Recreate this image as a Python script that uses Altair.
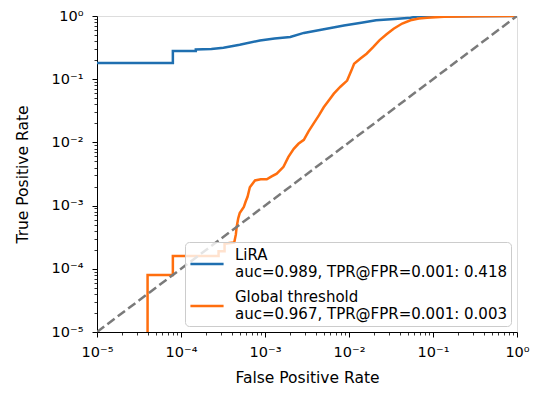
import json
import math
import altair as alt
import pandas as pd

# ---- data (log-log ROC curves) ----
lira_fpr = [1e-6, 8.0e-5, 8.0e-5, 1.5e-4, 1.5e-4, 2.3e-4, 3.2e-4, 5.0e-4, 8.7e-4, 1.3e-3,
            2.0e-3, 2.9e-3, 4.5e-3, 8.7e-3, 1.4e-2, 2.1e-2, 3.5e-2, 5.4e-2, 6.5e-2, 1.0]
lira_tpr = [0.18, 0.18, 0.28, 0.28, 0.295, 0.30, 0.315, 0.35, 0.41, 0.44,
            0.465, 0.54, 0.60, 0.71, 0.78, 0.855, 0.90, 0.94, 0.98, 1.0]

gt_fpr = [4.0e-5, 4.0e-5, 8.0e-5, 8.0e-5, 2.8e-4, 2.8e-4, 3.3e-4, 3.3e-4, 4.3e-4, 4.5e-4,
          4.6e-4, 4.8e-4, 5.0e-4, 5.6e-4, 5.9e-4, 6.2e-4, 6.6e-4, 7.6e-4, 8.9e-4, 1.05e-3,
          1.2e-3, 1.38e-3, 1.66e-3, 1.9e-3, 2.2e-3, 2.5e-3, 2.9e-3, 3.3e-3, 3.8e-3, 4.4e-3,
          5.0e-3, 5.8e-3, 6.6e-3, 7.9e-3, 9.5e-3, 1.07e-2, 1.15e-2, 1.38e-2, 1.62e-2, 1.95e-2,
          2.3e-2, 2.8e-2, 3.4e-2, 4.3e-2, 5.4e-2, 6.8e-2, 8.5e-2, 0.135, 0.316, 1.0]
gt_tpr = [1e-6, 8.0e-5, 8.0e-5, 1.6e-4, 1.6e-4, 1.9e-4, 1.9e-4, 2.5e-4, 2.6e-4, 3.5e-4,
          4.6e-4, 6.3e-4, 7.6e-4, 9.5e-4, 1.17e-3, 1.38e-3, 1.95e-3, 2.5e-3, 2.6e-3, 2.6e-3,
          2.9e-3, 3.2e-3, 4.1e-3, 5.9e-3, 7.9e-3, 9.5e-3, 1.1e-2, 1.5e-2, 2.0e-2, 2.7e-2,
          3.6e-2, 4.7e-2, 5.9e-2, 7.6e-2, 9.5e-2, 0.138, 0.176, 0.214, 0.253, 0.324,
          0.412, 0.513, 0.63, 0.76, 0.855, 0.91, 0.94, 0.973, 0.993, 1.0]

diag_vals = [1e-5, 1.0]

series_names = ["LiRA", "Global threshold"]
series_stats = ["auc=0.989, TPR@FPR=0.001: 0.418", "auc=0.967, TPR@FPR=0.001: 0.003"]
series_colors = ["#1f6fb0", "#ff6e0e"]

major_ticks = [1e-5, 1e-4, 1e-3, 1e-2, 1e-1, 1.0]
major_labels = ["10⁻⁵", "10⁻⁴", "10⁻³", "10⁻²", "10⁻¹", "10⁰"]
minor_ticks = [k * m for m in [1e-5, 1e-4, 1e-3, 1e-2, 1e-1] for k in range(2, 10)]
all_ticks = sorted(major_ticks + minor_ticks)

FONT = "DejaVu Sans"

# ---- tables ----
lira_df = pd.DataFrame({"fpr": lira_fpr, "tpr": lira_tpr, "series": series_names[0],
                        "ord": range(len(lira_fpr))})
gt_df = pd.DataFrame({"fpr": gt_fpr, "tpr": gt_tpr, "series": series_names[1],
                      "ord": range(len(gt_fpr))})
diag_df = pd.DataFrame({"fpr": diag_vals, "tpr": diag_vals})

IS_MAJOR = "abs(log(datum.value)/LN10 - round(log(datum.value)/LN10)) < 0.001"

def tick_expr():
    expr = "''"
    for v, lab in zip(major_ticks, major_labels):
        e = round(math.log10(v))
        expr = (f"abs(log(datum.value)/LN10 - ({e})) < 0.001 ? "
                f"{json.dumps(lab)} : ({expr})")
    return expr

label_expr = tick_expr()

legend_expr = (f"datum.label == {json.dumps(series_names[0])} ? "
               f"{json.dumps([series_names[0], series_stats[0]])} : "
               f"{json.dumps([series_names[1], series_stats[1]])}")

xscale = alt.Scale(type="log", domain=[1e-5, 1.0])
yscale = alt.Scale(type="log", domain=[1e-5, 1.0])
cscale = alt.Scale(domain=series_names, range=series_colors)

tick_size = {"condition": {"test": IS_MAJOR, "value": 5}, "value": 3}
tick_width = {"condition": {"test": IS_MAJOR, "value": 1}, "value": 0.8}

common_axis = dict(grid=False, tickColor="black", domainColor="black", labelColor="black",
                   labelFont=FONT, titleFont=FONT, labelFontSize=14.5, titleFontSize=15.5,
                   titleFontWeight="normal", titleColor="black", domainWidth=1,
                   values=all_ticks, labelExpr=label_expr, tickSize=tick_size,
                   tickWidth=tick_width, labelOverlap=False)

x_axis = alt.Axis(title="False Positive Rate", orient="bottom", labelFlush=False,
                  labelPadding=8, titlePadding=12, **common_axis)
y_axis = alt.Axis(title="True Positive Rate", orient="left", labelPadding=9,
                  titlePadding=21, **common_axis)

legend = alt.Legend(title=None, orient="none", legendX=88, legendY=226, direction="vertical",
                    symbolType="stroke", symbolSize=1100, symbolStrokeWidth=2.5,
                    labelFont=FONT, labelFontSize=15, labelColor="black", labelLimit=500,
                    labelExpr=legend_expr, labelOffset=10, rowPadding=8,
                    labelBaseline="line-bottom",
                    fillColor="rgba(255,255,255,0.8)", strokeColor="#cccccc",
                    cornerRadius=4, padding=4)

lira = alt.Chart(lira_df).mark_line(strokeWidth=2.5, clip=True, interpolate="linear").encode(
    x=alt.X("fpr:Q", scale=xscale, axis=x_axis),
    y=alt.Y("tpr:Q", scale=yscale, axis=y_axis),
    color=alt.Color("series:N", scale=cscale, legend=legend),
    order="ord:Q",
)

gt = alt.Chart(gt_df).mark_line(strokeWidth=2.5, clip=True, interpolate="linear").encode(
    x=alt.X("fpr:Q", scale=xscale),
    y=alt.Y("tpr:Q", scale=yscale),
    color=alt.Color("series:N", scale=cscale, legend=legend),
    order="ord:Q",
)

diag = alt.Chart(diag_df).mark_line(strokeWidth=2.5, color="#7a7a7a",
                                    strokeDash=[9, 4], clip=True).encode(
    x=alt.X("fpr:Q", scale=xscale),
    y=alt.Y("tpr:Q", scale=yscale),
)

chart = alt.layer(lira, gt, diag).properties(
    width=420, height=316,
    autosize=alt.AutoSizeParams(type="none"),
    padding={"left": 89, "top": 8, "right": 13, "bottom": 54},
).configure_view(stroke="#222222", strokeWidth=1).configure(background="white")

chart.save("out.html", embed_options={"renderer": "svg", "actions": False})
